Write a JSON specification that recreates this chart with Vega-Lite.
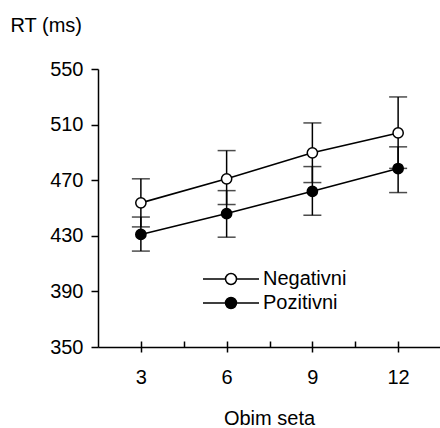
{
  "$schema": "https://vega.github.io/schema/vega-lite/v6.json",
  "autosize": "none",
  "width": 343,
  "height": 278,
  "padding": {"left": 98, "top": 69, "right": 0, "bottom": 81},
  "background": "white",
  "config": {
    "font": "Liberation Sans",
    "view": {"stroke": null},
    "axis": {"domainColor": "black", "tickColor": "black", "labelColor": "black", "titleColor": "black", "domainWidth": 1.5, "tickWidth": 1.5, "grid": false, "labelFont": "Liberation Sans", "titleFont": "Liberation Sans", "titleFontWeight": "normal"}
  },
  "data": {
    "values": [
      {"obim": 3, "grupa": "Negativni", "rt": 453.7, "lo": 436.4, "hi": 471.0},
      {"obim": 6, "grupa": "Negativni", "rt": 471.0, "lo": 452.5, "hi": 491.3},
      {"obim": 9, "grupa": "Negativni", "rt": 489.7, "lo": 468.3, "hi": 511.2},
      {"obim": 12, "grupa": "Negativni", "rt": 504.0, "lo": 478.5, "hi": 529.9},
      {"obim": 3, "grupa": "Pozitivni", "rt": 431.0, "lo": 419.0, "hi": 443.5},
      {"obim": 6, "grupa": "Pozitivni", "rt": 446.0, "lo": 429.0, "hi": 462.5},
      {"obim": 9, "grupa": "Pozitivni", "rt": 462.0, "lo": 444.8, "hi": 479.8},
      {"obim": 12, "grupa": "Pozitivni", "rt": 478.4, "lo": 461.1, "hi": 494.0}
    ]
  },
  "resolve": {"axis": {"x": "independent"}},
  "layer": [
    {
      "mark": {"type": "rule", "color": "black", "strokeWidth": 1.5},
      "encoding": {
        "x": {"field": "obim", "type": "quantitative", "scale": {"domain": [1.5, 13.5], "nice": false, "zero": false},
          "axis": {"orient": "bottom", "values": [3, 6, 9, 12], "tickSize": 5, "labelFontSize": 20, "labelPadding": 15, "title": "Obim seta", "titleFontSize": 20, "titleBaseline": "alphabetic", "titleY": 77, "titleX": 171}},
        "y": {"field": "lo", "type": "quantitative", "scale": {"domain": [350, 550], "nice": false, "zero": false},
          "axis": {"values": [350, 390, 430, 470, 510, 550], "tickSize": 7, "labelFontSize": 20, "labelPadding": 8, "title": "RT (ms)", "titleFontSize": 20, "titleAngle": 0, "titleAlign": "left", "titleBaseline": "alphabetic", "titleX": -88, "titleY": -38}},
        "y2": {"field": "hi"}
      }
    },
    {
      "mark": {"type": "tick", "color": "black", "orient": "horizontal", "size": 18, "thickness": 1.5},
      "encoding": {
        "x": {"field": "obim", "type": "quantitative",
          "axis": {"orient": "bottom", "values": [3, 4.5, 6, 7.5, 9, 10.5, 12], "tickSize": -6, "labels": false, "domain": false, "title": null}},
        "y": {"field": "lo", "type": "quantitative"}
      }
    },
    {
      "mark": {"type": "tick", "color": "black", "orient": "horizontal", "size": 18, "thickness": 1.5},
      "encoding": {
        "x": {"field": "obim", "type": "quantitative", "axis": null},
        "y": {"field": "hi", "type": "quantitative"}
      }
    },
    {
      "mark": {"type": "line", "color": "black", "strokeWidth": 1.6},
      "encoding": {
        "x": {"field": "obim", "type": "quantitative", "axis": null},
        "y": {"field": "rt", "type": "quantitative"},
        "detail": {"field": "grupa"}
      }
    },
    {
      "mark": {"type": "point", "filled": true, "stroke": "black", "strokeWidth": 1.5, "size": 105, "opacity": 1},
      "encoding": {
        "x": {"field": "obim", "type": "quantitative", "axis": null},
        "y": {"field": "rt", "type": "quantitative"},
        "fill": {"field": "grupa", "type": "nominal", "scale": {"domain": ["Negativni", "Pozitivni"], "range": ["white", "black"]},
          "legend": {"orient": "none", "legendX": 104, "legendY": 198, "title": null, "padding": 0, "rowPadding": 0, "clipHeight": 24, "labelFontSize": 20, "labelColor": "black", "labelOffset": 3,
            "symbolType": "M-1,0L-0.196,0M0.196,0L1,0M-0.196,0A0.196,0.196,0,1,1,0.196,0A0.196,0.196,0,1,1,-0.196,0Z",
            "symbolSize": 3136, "symbolStrokeColor": "black", "symbolStrokeWidth": 1.5, "symbolOpacity": 1}}
      }
    }
  ]
}
